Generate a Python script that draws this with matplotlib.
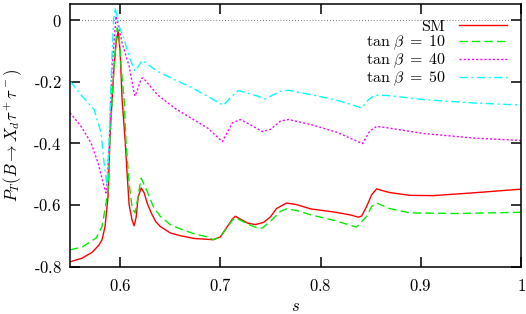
import numpy as np
import matplotlib
matplotlib.use("Agg")
import matplotlib.pyplot as plt

plt.rcParams['font.family'] = ['DejaVu Serif']
plt.rcParams['mathtext.fontset'] = 'cm'

# SM curve
s_sm = [0.550, 0.562, 0.572, 0.579, 0.582, 0.585, 0.588, 0.590, 0.594, 0.596,
        0.598, 0.600, 0.602, 0.605, 0.607, 0.609, 0.612, 0.614, 0.616, 0.618,
        0.621, 0.624, 0.627, 0.631, 0.6355, 0.640, 0.650, 0.660, 0.674, 0.693,
        0.700, 0.707, 0.712, 0.715, 0.720, 0.727, 0.735, 0.743, 0.750, 0.756,
        0.766, 0.776, 0.790, 0.813, 0.829, 0.838, 0.841, 0.846, 0.851, 0.856,
        0.862, 0.869, 0.889, 0.912, 0.952, 1.000]
p_sm = [-0.785, -0.773, -0.754, -0.730, -0.713, -0.670, -0.570, -0.370, -0.150, -0.075,
        -0.036, -0.100, -0.260, -0.390, -0.500, -0.600, -0.650, -0.668, -0.640, -0.575,
        -0.545, -0.561, -0.594, -0.626, -0.654, -0.670, -0.691, -0.700, -0.709, -0.713,
        -0.704, -0.670, -0.646, -0.637, -0.646, -0.659, -0.664, -0.657, -0.639, -0.612,
        -0.594, -0.599, -0.613, -0.623, -0.632, -0.640, -0.636, -0.605, -0.567, -0.548,
        -0.554, -0.560, -0.569, -0.570, -0.561, -0.549]

# tan beta = 10
s_10 = [0.550, 0.562, 0.576, 0.582, 0.586, 0.588, 0.590, 0.594, 0.596, 0.597,
        0.599, 0.601, 0.604, 0.606, 0.609, 0.612, 0.615, 0.618, 0.621, 0.627,
        0.633, 0.640, 0.650, 0.660, 0.674, 0.687, 0.693, 0.700, 0.707, 0.712,
        0.715, 0.720, 0.727, 0.737, 0.742, 0.750, 0.760, 0.766, 0.776, 0.790,
        0.813, 0.836, 0.846, 0.851, 0.856, 0.869, 0.889, 0.935, 1.000]
p_10 = [-0.746, -0.737, -0.708, -0.670, -0.594, -0.550, -0.370, -0.150, -0.060, -0.025,
        -0.050, -0.150, -0.258, -0.400, -0.530, -0.610, -0.626, -0.570, -0.513, -0.556,
        -0.605, -0.637, -0.664, -0.678, -0.694, -0.704, -0.713, -0.704, -0.672, -0.650,
        -0.642, -0.650, -0.662, -0.675, -0.675, -0.653, -0.621, -0.613, -0.618, -0.632,
        -0.650, -0.672, -0.637, -0.605, -0.594, -0.612, -0.626, -0.628, -0.624]

# tan beta = 40
s_40 = [0.550, 0.561, 0.571, 0.578, 0.584, 0.586, 0.589, 0.592, 0.596, 0.599,
        0.602, 0.609, 0.614, 0.615, 0.618, 0.621, 0.623, 0.637, 0.654, 0.670,
        0.688, 0.702, 0.712, 0.720, 0.730, 0.742, 0.750, 0.760, 0.768, 0.790,
        0.816, 0.839, 0.842, 0.849, 0.856, 0.867, 0.902, 0.952, 1.000]
p_40 = [-0.301, -0.345, -0.399, -0.464, -0.540, -0.561, -0.420, -0.150, 0.012, -0.030,
        -0.074, -0.150, -0.236, -0.247, -0.220, -0.190, -0.188, -0.242, -0.285, -0.317,
        -0.352, -0.395, -0.334, -0.323, -0.340, -0.362, -0.355, -0.328, -0.323, -0.339,
        -0.364, -0.397, -0.401, -0.361, -0.345, -0.350, -0.368, -0.383, -0.391]

# tan beta = 50
s_50 = [0.550, 0.562, 0.574, 0.581, 0.584, 0.587, 0.589, 0.5915, 0.5935, 0.595,
        0.599, 0.604, 0.610, 0.615, 0.622, 0.637, 0.654, 0.670, 0.687, 0.703,
        0.710, 0.718, 0.737, 0.745, 0.760, 0.768, 0.790, 0.816, 0.841, 0.848,
        0.854, 0.867, 0.902, 0.952, 1.000]
p_50 = [-0.198, -0.247, -0.290, -0.366, -0.464, -0.540, -0.390, -0.150, 0.000, 0.040,
        -0.020, -0.063, -0.128, -0.166, -0.131, -0.166, -0.193, -0.217, -0.247, -0.277,
        -0.252, -0.229, -0.247, -0.256, -0.231, -0.228, -0.242, -0.260, -0.285, -0.258,
        -0.244, -0.245, -0.258, -0.269, -0.276]

xticks = [0.6, 0.7, 0.8, 0.9, 1.0]
xticklabels = [r'$0.6$', r'$0.7$', r'$0.8$', r'$0.9$', r'$1$']
yticks = [-0.8, -0.6, -0.4, -0.2, 0.0]
yticklabels = [r'$\text{-}0.8$', r'$\text{-}0.6$', r'$\text{-}0.4$', r'$\text{-}0.2$', r'$0$']

fig = plt.figure(figsize=(5.26, 3.14), dpi=100)
ax = fig.add_axes([70/526, 1 - 266.5/314, 451/526, 262.5/314])

ax.axhline(0, color='#444444', lw=0.6, dashes=(1, 2.5))

ax.plot(s_sm, p_sm, color='#ff0000', lw=1.0, label=r'$\mathrm{SM}$')
ax.plot(s_10, p_10, color='#00ee00', lw=1.0, dashes=(6, 3), label=r'$\tan\,\beta\;=\;10$')
ax.plot(s_40, p_40, color='#ff00ff', lw=1.0, dashes=(1.5, 1.5), label=r'$\tan\,\beta\;=\;40$')
ax.plot(s_50, p_50, color='#00ffff', lw=1.0, dashes=(6, 2.5, 1.5, 2.5), label=r'$\tan\,\beta\;=\;50$')

ax.set_xlim(0.55, 1.0)
ax.set_ylim(-0.8, 0.052)
ax.set_xticks(xticks)
ax.set_xticklabels(xticklabels)
ax.set_yticks(yticks)
ax.set_yticklabels(yticklabels)
ax.tick_params(direction='in', top=True, right=True, length=7, width=1.1,
               labelsize=12)
ax.tick_params(axis='x', pad=8)
ax.tick_params(axis='y', pad=6)
for sp in ax.spines.values():
    sp.set_linewidth(1.1)

ax.set_xlabel(r'$s$', fontsize=12)
ax.set_ylabel(r'$P_T(B \to X_d \tau^+ \tau^-)$', fontsize=12)
ax.yaxis.set_label_coords(-0.102, 0.5)
ax.xaxis.set_label_coords(0.5, -0.12)

ax.legend(loc='upper right', frameon=False, markerfirst=False, alignment='right',
          fontsize=11.5, handlelength=3.0, handletextpad=0.8, labelspacing=-0.05,
          borderaxespad=0.2, bbox_to_anchor=(0.99, 0.985))

fig.savefig('out.png', dpi=100)
